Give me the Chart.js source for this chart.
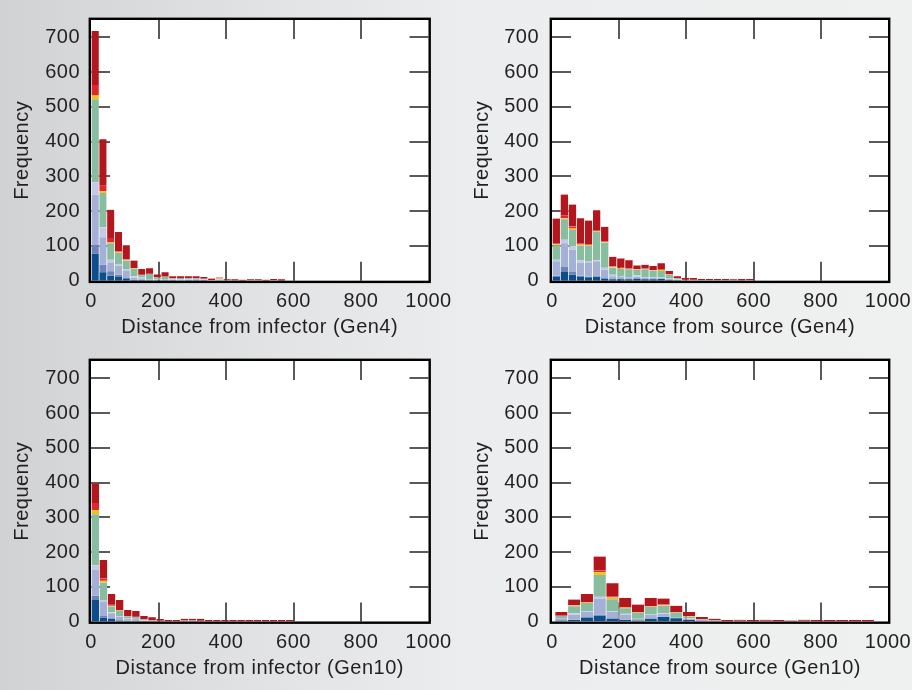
<!DOCTYPE html>
<html>
<head>
<meta charset="utf-8">
<script src="https://cdn.jsdelivr.net/npm/chart.js@4.4.1/dist/chart.umd.min.js"></script>
<style>
  html, body { margin: 0; padding: 0; }
  body {
    width: 912px; height: 690px; position: relative; overflow: hidden;
    background: linear-gradient(90deg, #d1d2d4 0%, #e1e2e3 28%, #ecedee 52%, #eff0f0 100%);
  }
  .panel { position: absolute; width: 456px; height: 345px; }
  canvas { display: block; }
</style>
</head>
<body>
<div class="panel" style="left:0;top:0"><canvas id="inf4" width="456" height="345"></canvas></div>
<div class="panel" style="left:456px;top:0"><canvas id="src4" width="456" height="345"></canvas></div>
<div class="panel" style="left:0;top:345px"><canvas id="inf10" width="456" height="345"></canvas></div>
<div class="panel" style="left:456px;top:345px"><canvas id="src10" width="456" height="345"></canvas></div>
<script>
// Stack order, bottom to top
const seriesNames = ['dark blue', 'mid blue', 'light blue', 'pale blue', 'green', 'yellow', 'bright red', 'dark red'];
const seriesColors = ['#0c4e8c', '#6d84ba', '#a5b0d6', '#c4c9e5', '#89bd9f', '#f3c211', '#e1262c', '#b4161e'];

const xTicks = [0, 200, 400, 600, 800, 1000];
const yTicks = [0, 100, 200, 300, 400, 500, 600, 700];

// Distance from infector, generation 4 (bins of 23)
const inf4Edges = [0,23,46,69,92,115,138,161,184,207,230,253,276,299,322,345,368,391,414,437,460,483,506,529,552];
const inf4DarkBlue   = [78,24,14,11,5,2,2,1,1,1,1,0,1,1,1,0,0,0,0,0,0,0,0,0,0];
const inf4MidBlue    = [25,22,13,6,3,1,1,1,0,1,0,1,0,0,0,0,0,0,0,0,0,0,0,0,0];
const inf4LightBlue  = [144,79,24,26,20,6,4,2,2,2,2,2,2,3,2,1,3,1,0,0,1,0,0,1,0];
const inf4PaleBlue   = [36,29,9,5,4,3,2,1,1,1,1,1,1,1,1,0,1,0,0,0,0,0,0,0,0];
const inf4Green      = [239,98,48,32,26,22,7,14,5,6,3,4,3,2,1,1,1,0,0,0,0,1,0,0,0];
const inf4Yellow     = [12,5,3,2,2,1,0,0,0,0,0,0,0,0,0,0,1,0,0,0,0,0,0,0,0];
const inf4BrightRed  = [29,16,12,2,2,1,1,1,1,1,1,0,1,1,1,0,1,0,1,0,0,0,0,1,0];
const inf4DarkRed    = [155,134,81,56,40,22,17,16,8,12,5,5,5,5,5,4,2,3,3,3,3,3,3,3,4];

// Distance from source, generation 4 (bins of 24)
const src4Edges = [0,24,48,72,96,120,144,168,192,216,240,264,288,312,336,360,384,408,432,456,480,504,528,552,576];
const src4DarkBlue   = [11,25,17,11,10,11,6,4,4,4,6,4,4,5,2,1,0,0,0,0,0,0,0,0,0];
const src4MidBlue    = [4,16,8,4,2,2,2,1,1,1,1,1,1,1,0,0,0,0,0,0,0,0,0,0,0];
const src4LightBlue  = [41,67,64,37,39,43,24,8,6,5,5,4,4,2,3,2,1,1,1,1,0,1,1,0,1];
const src4PaleBlue   = [4,10,10,7,6,3,5,4,2,1,3,2,2,1,1,1,0,0,0,0,0,0,0,0,0];
const src4Green      = [42,59,47,42,43,82,73,21,21,22,16,22,18,19,11,3,1,1,0,0,1,0,0,0,0];
const src4Yellow     = [3,3,4,3,2,2,2,2,2,1,1,1,1,3,1,0,0,0,0,0,0,0,0,0,0];
const src4BrightRed  = [3,8,6,4,2,2,2,1,1,1,1,1,1,1,1,1,1,1,0,0,0,0,0,1,0];
const src4DarkRed    = [71,60,63,72,69,58,41,28,27,24,11,11,11,18,9,5,5,5,4,4,4,4,3,4,4];

// Distance from infector, generation 10 (bins of 24)
const inf10Edges = [0,24,48,72,96,120,144,168,192,216,240,264,288,312,336,360,384,408,432,456,480,504,528,552,576];
const inf10DarkBlue  = [62,11,7,3,2,2,1,1,0,0,0,0,0,0,0,0,0,0,0,0,0,0,0,0,0];
const inf10MidBlue   = [12,5,2,1,1,0,0,0,0,0,0,0,0,0,0,0,0,0,0,0,0,0,0,0,0];
const inf10LightBlue = [74,40,15,10,4,5,2,1,1,0,0,1,1,1,0,0,1,0,0,0,0,1,0,0,0];
const inf10PaleBlue  = [14,6,2,2,2,1,1,0,0,0,0,0,0,0,0,0,0,0,0,0,0,0,0,0,0];
const inf10Green     = [147,50,17,15,6,5,2,1,1,0,0,1,1,0,0,0,0,0,0,0,0,0,0,0,0];
const inf10Yellow    = [11,5,2,1,0,0,0,0,0,0,0,0,0,0,0,0,0,0,0,0,0,0,0,0,0];
const inf10BrightRed = [21,7,3,1,1,1,1,1,0,0,1,1,1,1,1,1,0,1,1,1,1,0,1,1,1];
const inf10DarkRed   = [56,53,31,29,17,16,9,8,5,4,3,5,5,6,3,3,3,3,3,3,3,3,3,3,3];

// Distance from source, generation 10 (bins of 38)
const src10Edges = [8,46,84,122,160,198,236,274,312,350,388,426,464,502,540,578,616,654,692,730,768,806,844,882,920];
const src10DarkBlue  = [3,4,11,17,7,5,3,8,13,9,4,1,1,0,0,0,0,0,0,0,0,0,0,0,0];
const src10MidBlue   = [1,1,2,3,2,1,1,1,1,0,1,0,0,0,0,0,0,0,0,0,0,0,0,0,0];
const src10LightBlue = [5,15,14,46,18,14,3,10,8,2,3,3,2,0,1,0,1,0,0,0,0,0,0,0,0];
const src10PaleBlue  = [1,4,2,5,2,2,1,1,2,0,1,1,0,0,0,0,0,0,0,0,0,0,0,0,0];
const src10Green     = [6,20,24,63,35,16,17,22,21,14,5,1,0,0,0,0,0,0,0,1,0,0,0,0,0];
const src10Yellow    = [0,2,2,8,5,2,1,1,2,1,1,0,0,0,0,0,0,0,0,0,0,0,0,0,0];
const src10BrightRed = [1,1,1,5,4,2,1,1,2,1,1,1,1,1,1,1,1,1,0,1,1,1,1,1,1];
const src10DarkRed   = [10,16,23,40,37,26,22,24,17,18,11,6,4,3,3,3,3,3,3,3,3,3,3,3,3];

const ink = '#231f20';
const textSize = 20;
Chart.defaults.font.family = "'Liberation Sans', Arial, Helvetica, sans-serif";
Chart.defaults.color = ink;

// Slightly open lettering for all chart text
function spaceLetters(chart) {
  if ('letterSpacing' in chart.ctx) chart.ctx.letterSpacing = '0.5px';
}

// White plot area, inward tick marks (under the bars) and a heavy frame just outside the plot area (over them)
const plotFrame = {
  id: 'plotFrame',
  beforeUpdate: spaceLetters,
  beforeDraw(chart) {
    spaceLetters(chart);
    const { ctx, chartArea: a } = chart;
    ctx.save();
    ctx.fillStyle = '#ffffff';
    ctx.fillRect(a.left, a.top, a.right - a.left, a.bottom - a.top);
    ctx.restore();
  },
  beforeDatasetsDraw(chart) {
    const { ctx, chartArea: a, scales: { x, y } } = chart;
    const len = 19;
    ctx.save();
    ctx.strokeStyle = '#5a5a5a';
    ctx.lineWidth = 2;
    ctx.beginPath();
    y.ticks.forEach(t => {
      if (t.value <= 0) return;
      const py = Math.round(y.getPixelForValue(t.value));
      ctx.moveTo(a.left, py); ctx.lineTo(a.left + len, py);
      ctx.moveTo(a.right, py); ctx.lineTo(a.right - len, py);
    });
    x.ticks.forEach(t => {
      if (t.value <= x.min || t.value >= x.max) return;
      const px = Math.round(x.getPixelForValue(t.value));
      ctx.moveTo(px, a.bottom); ctx.lineTo(px, a.bottom - len);
      ctx.moveTo(px, a.top); ctx.lineTo(px, a.top + len);
    });
    ctx.stroke();
    ctx.restore();
  },
  afterDatasetsDraw(chart) {
    const { ctx, chartArea: a } = chart;
    const w = 2.4;
    ctx.save();
    ctx.strokeStyle = '#000000';
    ctx.lineWidth = w;
    ctx.strokeRect(a.left - w / 2, a.top - w / 2, a.right - a.left + w, a.bottom - a.top + w);
    ctx.restore();
  }
};

// Fixed axis box sizes, without Chart.js reserving room for edge labels
function fixBox(size, isX) {
  return s => {
    if (isX) s.height = size; else s.width = size;
    s.paddingTop = 0; s.paddingBottom = 0; s.paddingLeft = 0; s.paddingRight = 0;
  };
}

function histogram(canvasId, edges, binWidth, series, xTitle, g) {
  const datasets = series.map((values, k) => ({
    label: seriesNames[k],
    data: edges.map((e, i) => ({ x: e + binWidth / 2, y: values[i] })),
    backgroundColor: seriesColors[k],
    borderColor: 'rgba(255,255,255,0.35)',
    borderWidth: { left: 1, right: 0, top: 0, bottom: 0 },
    borderSkipped: false,
    barPercentage: 1,
    categoryPercentage: 1
  }));

  new Chart(document.getElementById(canvasId), {
    type: 'bar',
    data: { datasets },
    options: {
      responsive: false,
      animation: false,
      events: [],
      layout: { padding: { top: g.top, right: g.right, left: 0, bottom: 0 } },
      plugins: { legend: { display: false }, tooltip: { enabled: false } },
      scales: {
        x: {
          type: 'linear', stacked: true, offset: false,
          min: xTicks[0], max: xTicks[xTicks.length - 1],
          grid: { display: false, drawTicks: false },
          border: { display: false },
          afterBuildTicks: s => { s.ticks = xTicks.map(v => ({ value: v })); },
          ticks: { padding: 9, maxRotation: 0, autoSkip: false, color: ink,
                   font: { size: textSize }, callback: v => String(v) },
          title: { display: true, text: xTitle, color: ink,
                   font: { size: textSize, lineHeight: 1 }, padding: { top: 0, bottom: g.xTitlePad } },
          afterFit: fixBox(g.xHeight, true)
        },
        y: {
          stacked: true, min: 0, max: 750,
          grid: { display: false, drawTicks: false },
          border: { display: false },
          afterBuildTicks: s => { s.ticks = yTicks.map(v => ({ value: v })); },
          ticks: { padding: g.yTickPad, color: ink, font: { size: textSize }, callback: v => String(v) },
          title: { display: true, text: 'Frequency', color: ink,
                   font: { size: textSize, lineHeight: 1 }, padding: { top: g.yTitlePad, bottom: 0 } },
          afterFit: fixBox(g.yWidth, false)
        }
      }
    },
    plugins: [plotFrame]
  });
}

histogram('inf4', inf4Edges, 23,
  [inf4DarkBlue, inf4MidBlue, inf4LightBlue, inf4PaleBlue, inf4Green, inf4Yellow, inf4BrightRed, inf4DarkRed],
  'Distance from infector (Gen4)',
  { top: 20, right: 27.5, yWidth: 91, xHeight: 64.3, xTitlePad: 7.5, yTitlePad: 12.5, yTickPad: 11 });

histogram('src4', src4Edges, 24,
  [src4DarkBlue, src4MidBlue, src4LightBlue, src4PaleBlue, src4Green, src4Yellow, src4BrightRed, src4DarkRed],
  'Distance from source (Gen4)',
  { top: 20, right: 24, yWidth: 96, xHeight: 64.3, xTitlePad: 7.5, yTitlePad: 16.5, yTickPad: 13 });

histogram('inf10', inf10Edges, 24,
  [inf10DarkBlue, inf10MidBlue, inf10LightBlue, inf10PaleBlue, inf10Green, inf10Yellow, inf10BrightRed, inf10DarkRed],
  'Distance from infector (Gen10)',
  { top: 16, right: 27.5, yWidth: 91, xHeight: 68.5, xTitlePad: 11.5, yTitlePad: 12.5, yTickPad: 11 });

histogram('src10', src10Edges, 38,
  [src10DarkBlue, src10MidBlue, src10LightBlue, src10PaleBlue, src10Green, src10Yellow, src10BrightRed, src10DarkRed],
  'Distance from source (Gen10)',
  { top: 16, right: 24, yWidth: 96, xHeight: 68.5, xTitlePad: 11.5, yTitlePad: 16.5, yTickPad: 13 });
</script>
</body>
</html>
